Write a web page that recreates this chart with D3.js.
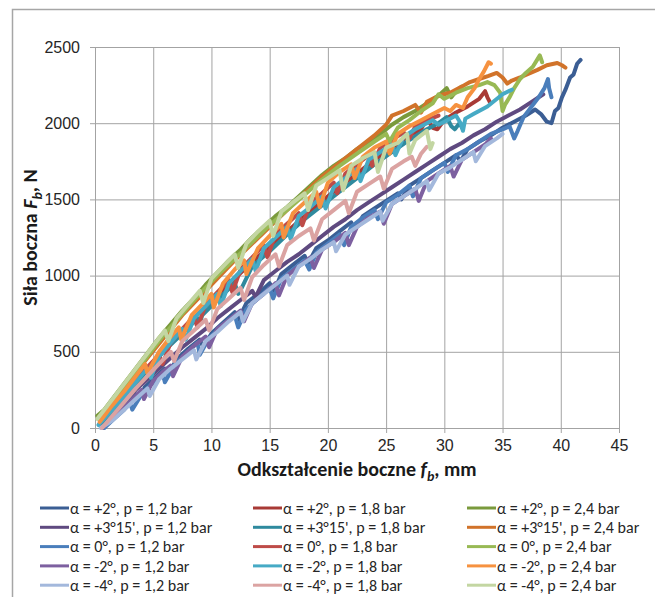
<!DOCTYPE html>
<html>
<head>
<meta charset="utf-8">
<script src="https://cdn.jsdelivr.net/npm/d3@7"></script>
<style>
  body { margin: 0; background: #fff; }
  svg { font-family: Carlito, Calibri, Lato, sans-serif; }
  .grid line { stroke: #a3a3a3; stroke-width: 1; }
  .grid path { display: none; }
  .eje path { display: none; }
  .eje line { stroke: #a3a3a3; }
  .eje text { font-size: 16px; fill: #262626; }
  .titulo { font-size: 20px; font-weight: bold; fill: #1a1a1a; }
  .leyenda text { font-size: 16px; fill: #262626; }
</style>
</head>
<body>
<svg width="655" height="597"></svg>
<script>

// Ticks
let x_ticks = [0, 5, 10, 15, 20, 25, 30, 35, 40, 45]
let y_ticks = [0, 500, 1000, 1500, 2000, 2500]

// Series: [odkształcenie mm, siła N]
let s_p2_12 = [[0.7,0],[1.2,40],[2,100],[2.8,170],[3.5,220],[3.7,190],[4.3,270],[5,320],[6,390],[6.3,350],[7,450],[8,520],[9,580],[9.3,530],[10,620],[11,690],[12,760],[12.3,710],[13,820],[14,880],[15,950],[15.4,900],[16,1010],[17,1070],[18,1130],[18.3,1080],[19,1180],[20,1230],[21,1290],[22,1350],[22.3,1300],[23,1390],[24,1440],[25,1490],[26,1540],[26.3,1500],[27,1590],[28,1640],[29,1690],[30,1740],[31,1790],[31.4,1750],[32,1830],[33,1880],[34,1920],[35,1970],[36,2010],[37,2050],[37.8,2090],[38.3,2060],[38.8,2010],[39.2,2000],[39.5,2080],[39.8,2100],[40.1,2170],[40.4,2220],[40.8,2300],[41.1,2320],[41.4,2390],[41.7,2415]]
let s_p2_18 = [[0.5,20],[1.5,120],[3,260],[4.5,390],[6,520],[7.5,640],[9,760],[10.5,870],[12,980],[13.5,1090],[15,1190],[16.5,1290],[18,1390],[19.5,1490],[21,1580],[22.5,1670],[24,1760],[25.5,1840],[27,1920],[28,1960],[28.5,2030],[29,1970],[29.4,1960],[30,2020],[31,2070],[32,2110],[33,2160],[33.5,2210],[33.7,2170],[33.9,2140]]
let s_p2_24 = [[0.2,80],[0.8,120],[1.5,190],[2.5,290],[3.5,390],[4.5,490],[5.5,590],[6.5,680],[7.5,770],[8.5,850],[9.5,940],[10.5,1020],[11.5,1100],[12.5,1170],[13.5,1250],[14.5,1320],[15.5,1390],[16.5,1450],[17.5,1520],[18.5,1590],[19.5,1660],[20.5,1720],[21.5,1770],[22.5,1830],[23.5,1880],[24.5,1930],[25.5,1990],[26.5,2040],[27.5,2080],[28.5,2130],[29.5,2180],[30.2,2230],[30.6,2170],[31,2210],[31.5,2240]]
let s_p315_12 = [[0.5,10],[1.5,90],[2.5,170],[3.5,250],[4.5,320],[5.5,390],[6.5,460],[7.5,530],[8.5,590],[9.5,650],[10.5,720],[11.5,780],[12.5,840],[13.5,900],[13.8,860],[14.5,970],[15.5,1030],[16.5,1090],[17.5,1140],[18.5,1200],[19.5,1260],[20.5,1320],[21.5,1370],[22.5,1430],[23.5,1480],[24.5,1530],[25.5,1580],[26.5,1630],[27.5,1680],[28.5,1730],[29.5,1780],[30.5,1830],[31.5,1870],[32.5,1920],[33.5,1960],[34.5,2010],[35.5,2050],[36.5,2090],[37.5,2140],[38.5,2190]]
let s_p315_18 = [[0.5,10],[1.5,100],[3,240],[4.5,380],[6,510],[7.5,620],[8.8,720],[9,680],[9.2,740],[10.5,840],[12,950],[12.3,880],[12.6,920],[13.5,1060],[15,1160],[16.5,1270],[18,1370],[19.5,1460],[21,1550],[22.5,1640],[24,1730],[25.5,1810],[27,1890],[28.5,1960],[29.5,2000],[30.2,2040],[30.6,1980],[30.9,1960],[31.3,2000],[31.6,1960]]
let s_p315_24 = [[0.3,60],[1.5,170],[3,320],[4.5,460],[6,600],[7.5,740],[9,860],[10.5,980],[12,1100],[13.5,1210],[15,1320],[16.5,1430],[18,1540],[19.5,1650],[21,1740],[22.5,1830],[24,1920],[25,1990],[25.5,2050],[26.5,2080],[27.5,2120],[28,2070],[28.5,2140],[29.5,2180],[30.5,2200],[31.5,2240],[32.2,2270],[33,2290],[33.8,2310],[34.5,2330],[35,2300],[35.4,2260],[35.8,2280],[36.5,2300],[37.4,2330],[38,2350],[38.8,2380],[39.7,2395],[40.1,2380],[40.4,2365]]
let s_0_12 = [[0.8,0],[1.5,50],[2.5,120],[3,170],[3.2,120],[4,220],[5,300],[5.8,360],[6,300],[6.8,410],[8,500],[8.8,560],[9,480],[9.8,590],[11,680],[12,740],[12.3,660],[13,780],[14,850],[15,920],[15.3,850],[16,980],[17,1040],[18,1100],[18.4,1040],[19,1150],[20,1210],[21,1270],[21.4,1200],[22,1320],[23,1380],[24,1430],[24.3,1370],[25,1480],[26,1530],[27,1590],[27.3,1520],[28,1640],[29,1690],[30,1740],[30.3,1680],[31,1790],[32,1830],[33,1880],[34,1930],[35,1960],[35.6,1980],[36,1900],[36.3,1950],[36.8,2040],[37.5,2110],[38.1,2170],[38.6,2230],[38.9,2290],[39,2230],[39.2,2170]]
let s_0_18 = [[0.4,30],[1.5,130],[2.5,220],[3.5,310],[4.5,400],[5.5,480],[5.8,420],[6.5,560],[7.5,650],[8.5,730],[8.8,660],[9.5,810],[10.5,890],[11.5,970],[11.8,890],[12.5,1040],[13.5,1120],[14.5,1200],[14.8,1120],[15.5,1270],[16.5,1340],[17.5,1410],[17.8,1330],[18.5,1480],[19.5,1540],[20.5,1610],[20.8,1540],[21.5,1670],[22.5,1730],[23.5,1790],[23.8,1720],[24.5,1840],[25.5,1890],[26.5,1940],[27,1900],[27.5,1980],[28.5,2020],[29.5,2050]]
let s_0_24 = [[0.3,70],[1.5,180],[3,330],[4.5,470],[6,620],[7.5,750],[9,880],[10.5,1000],[12,1110],[13.5,1220],[15,1330],[16.5,1430],[18,1530],[19.5,1630],[21,1720],[22.5,1800],[24,1880],[25,1930],[25.3,1880],[26,1970],[27,2020],[28,2080],[29,2130],[29.5,2190],[30,2160],[31,2200],[32,2230],[33,2250],[33.7,2270],[34.3,2250],[34.8,2200],[35,2080],[35.2,2120],[35.6,2170],[36,2230],[36.5,2290],[37,2330],[37.6,2370],[38.2,2445],[38.4,2400]]
let s_m2_12 = [[0.6,0],[1.5,60],[2.5,130],[3.5,210],[4,250],[4.2,190],[5,310],[6,380],[6.5,410],[6.7,340],[7.5,470],[8.5,540],[9.5,600],[9.8,530],[10.5,650],[11.5,710],[12.5,770],[12.8,700],[13.5,820],[14.5,880],[15.5,950],[15.8,870],[16.5,1000],[17.5,1060],[18.5,1120],[18.8,1050],[19.5,1170],[20.5,1220],[21.5,1280],[21.8,1200],[22.5,1320],[23.5,1380],[24.5,1420],[24.8,1340],[25.5,1470],[26.5,1520],[27.5,1570],[27.8,1490],[28.5,1620],[29.5,1670],[30.5,1720],[30.8,1650],[31.5,1760],[32.5,1810],[33.5,1860],[34,1900]]
let s_m2_18 = [[0.3,20],[1.5,120],[2.5,210],[3.5,300],[4.5,390],[4.8,330],[5.5,470],[6.5,560],[7.5,650],[7.8,580],[8.5,720],[9.5,800],[10.5,880],[10.8,800],[11.5,950],[12.5,1030],[13.5,1110],[13.8,1030],[14.5,1180],[15.5,1250],[16.5,1320],[16.8,1240],[17.5,1390],[18.5,1450],[19.5,1520],[19.8,1440],[20.5,1580],[21.5,1640],[22.5,1700],[22.8,1620],[23.5,1760],[24.5,1810],[25.5,1860],[25.8,1790],[26.5,1910],[27.5,1960],[28.5,2000],[29,2020],[29.5,1990],[30,2010],[31,2050],[31.4,2000],[31.6,1950],[31.8,2030],[32.5,2060],[33.7,2110],[35,2190],[35.8,2220]]
let s_m2_24 = [[0.4,40],[1.5,150],[2.5,240],[3.5,340],[4.3,420],[4.5,360],[5.5,500],[6.5,600],[7.2,660],[7.4,580],[8.3,740],[9.3,820],[10,880],[10.2,790],[11,950],[12,1040],[12.8,1100],[13,1010],[14,1180],[15,1260],[16,1340],[16.2,1250],[17,1410],[18,1480],[19,1550],[19.3,1450],[20,1610],[21,1680],[22,1730],[22.3,1640],[23,1780],[24,1840],[25,1880],[25.3,1800],[26,1930],[27,1980],[28,2020],[29,2060],[30,2100],[30.5,2080],[31,2120],[31.6,2100],[32,2170],[32.6,2230],[33,2290],[33.4,2340],[33.8,2400],[34,2390]]
let s_m4_12 = [[0.5,0],[1.5,50],[2.5,120],[3.5,190],[4.5,260],[4.7,210],[5.5,320],[6.5,390],[7.5,450],[8.5,510],[8.7,450],[9.5,570],[10.5,630],[11.5,700],[12.5,760],[12.7,700],[13.5,820],[14.5,880],[15.5,940],[16.5,1000],[16.7,940],[17.5,1060],[18.5,1110],[19.5,1170],[20.5,1220],[20.7,1160],[21.5,1270],[22.5,1320],[23.5,1370],[24.5,1420],[24.7,1360],[25.5,1470],[26.5,1520],[27.5,1570],[28.5,1620],[28.7,1560],[29.5,1670],[30.5,1710],[31.5,1760],[32.5,1810],[32.7,1750],[33.5,1850],[34.5,1900],[35,1930]]
let s_m4_18 = [[0.6,0],[1.5,80],[2.5,170],[3.5,260],[4.5,340],[5.5,420],[6.5,500],[6.8,440],[7.5,570],[8.5,640],[9.5,710],[9.8,640],[10.5,780],[11.5,850],[12.5,920],[12.8,840],[13.5,990],[14.5,1070],[15.5,1140],[15.8,1060],[16.5,1200],[17.5,1260],[18.5,1310],[18.8,1230],[19.5,1370],[20.5,1430],[21.5,1490],[21.8,1410],[22.5,1550],[23.5,1600],[24.5,1650],[24.8,1570],[25.5,1700],[26.5,1750],[27.2,1780],[27.5,1720],[28,1800],[28.5,1845]]
let s_m4_24 = [[0.2,60],[1,140],[2,240],[3,340],[4,440],[5,540],[6,640],[6.3,570],[7,720],[8,810],[9,900],[9.3,820],[10,980],[11,1060],[12,1140],[12.3,1050],[13,1210],[14,1290],[15,1360],[15.3,1260],[16,1420],[17,1480],[18,1540],[18.3,1430],[19,1590],[20,1640],[21,1690],[21.3,1560],[22,1720],[23,1770],[24,1810],[24.3,1680],[25,1840],[26,1870],[26.8,1930],[27,1800],[27.5,1890],[28,1920],[28.5,1950],[28.8,1830],[29,1870]]

let series = [s_p2_12, s_p2_18, s_p2_24, s_p315_12, s_p315_18, s_p315_24, s_0_12, s_0_18, s_0_24, s_m2_12, s_m2_18, s_m2_24, s_m4_12, s_m4_18, s_m4_24]

let nombres = [
  'α = +2°, p = 1,2 bar', 'α = +2°, p = 1,8 bar', 'α = +2°, p = 2,4 bar',
  "α = +3°15',  p = 1,2 bar", "α = +3°15',  p = 1,8 bar", "α = +3°15', p = 2,4 bar",
  'α = 0°, p = 1,2 bar', 'α = 0°, p = 1,8 bar', 'α = 0°, p = 2,4 bar',
  'α = -2°, p = 1,2 bar', 'α = -2°, p = 1,8 bar', 'α = -2°, p = 2,4 bar',
  'α = -4°, p = 1,2 bar', 'α = -4°, p = 1,8 bar', 'α = -4°, p = 2,4 bar'
]

let colores = [
  '#3b5e94', '#a83a36', '#7a9a3c',
  '#5f4a80', '#2f8a9e', '#d1732a',
  '#4a7ebb', '#be4b48', '#98b954',
  '#7d60a0', '#46aac5', '#f69240',
  '#a3b8dc', '#dba3a2', '#c3d6a2'
]


/* Lienzo */

let svg = d3.select('svg')

// marco del gráfico
svg.append('path')
  .attr('d', 'M12.5,700 V9.5 H700')
  .attr('fill', 'none')
  .attr('stroke', '#a6a6a6')
  .attr('stroke-width', 1.5)

let izq = 95, der = 619, arriba = 47, abajo = 428

let x = d3.scaleLinear().domain([0, 45]).range([izq, der])
let y = d3.scaleLinear().domain([0, 2500]).range([abajo, arriba])

let g = svg.append('g')

g.append('g')
  .attr('class', 'grid')
  .attr('transform', `translate(0, ${abajo})`)
  .call(d3.axisBottom(x).tickValues(x_ticks).tickSize(-(abajo - arriba)).tickFormat(''))

g.append('g')
  .attr('class', 'grid')
  .attr('transform', `translate(${izq}, 0)`)
  .call(d3.axisLeft(y).tickValues(y_ticks).tickSize(-(der - izq)).tickFormat(''))

g.append('g')
  .attr('class', 'eje')
  .attr('transform', `translate(0, ${abajo})`)
  .call(d3.axisBottom(x).tickValues(x_ticks).tickSize(5).tickPadding(7).tickFormat(d3.format('d')))

g.append('g')
  .attr('class', 'eje')
  .attr('transform', `translate(${izq}, 0)`)
  .call(d3.axisLeft(y).tickValues(y_ticks).tickSize(5).tickPadding(10).tickFormat(d3.format('d')))


/* Curvas */

let linea = d3.line()
  .x(d => x(d[0]))
  .y(d => y(d[1]))

g.selectAll('path.serie')
  .data(series)
  .enter().append('path')
    .attr('class', 'serie')
    .attr('d', linea)
    .attr('fill', 'none')
    .attr('stroke', (d, i) => colores[i])
    .attr('stroke-width', 4)
    .attr('stroke-linejoin', 'round')
    .attr('stroke-linecap', 'round')


/* Títulos */

let tx = svg.append('text')
  .attr('class', 'titulo')
  .attr('x', (izq + der) / 2)
  .attr('y', 476)
  .attr('text-anchor', 'middle')
tx.append('tspan').text('Odkształcenie boczne ')
tx.append('tspan').attr('font-style', 'italic').text('f')
tx.append('tspan').attr('font-style', 'italic').attr('font-size', '14px').attr('dy', 5).text('b')
tx.append('tspan').attr('dy', -5).text(', mm')

let ty = svg.append('text')
  .attr('class', 'titulo')
  .attr('transform', `translate(37, ${(arriba + abajo) / 2}) rotate(-90)`)
  .attr('text-anchor', 'middle')
ty.append('tspan').text('Siła boczna ')
ty.append('tspan').attr('font-style', 'italic').text('F')
ty.append('tspan').attr('font-style', 'italic').attr('font-size', '14px').attr('dy', 5).text('b')
ty.append('tspan').attr('dy', -5).text(', N')


/* Leyenda */

let col_x = [40, 253, 467]

let items = svg.append('g').attr('class', 'leyenda')
  .selectAll('g')
  .data(nombres)
  .enter().append('g')
    .attr('transform', (d, i) => `translate(${col_x[i % 3]}, ${508 + Math.floor(i / 3) * 19.3})`)

items.append('line')
  .attr('x1', 0).attr('x2', 29)
  .attr('stroke', (d, i) => colores[i])
  .attr('stroke-width', 3)

items.append('text')
  .attr('x', 30)
  .attr('dy', '0.35em')
  .text(d => d)

</script>
</body>
</html>
